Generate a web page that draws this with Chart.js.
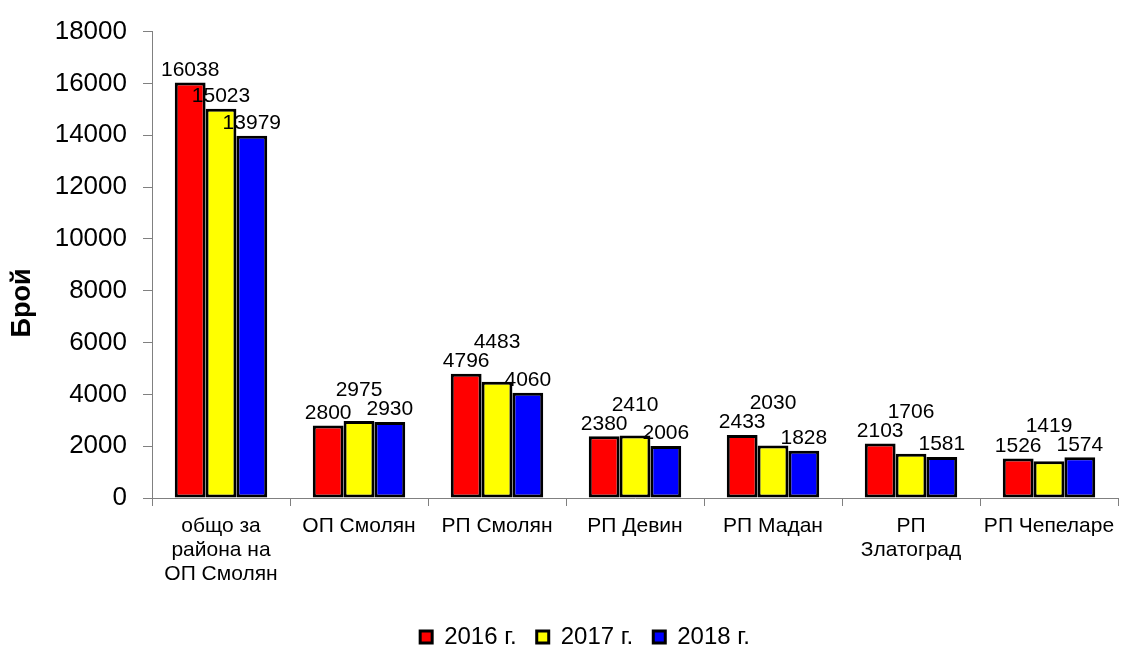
<!DOCTYPE html>
<html>
<head>
<meta charset="utf-8">
<script src="https://cdn.jsdelivr.net/npm/chart.js@4"></script>
<style>
  html, body { margin: 0; padding: 0; background: #ffffff; }
  #wrap { width: 1142px; height: 647px; }
</style>
</head>
<body>
<div id="wrap"><canvas id="c" width="1142" height="647"></canvas></div>
<script>
const categories = [
  ['общо за', 'района на', 'ОП Смолян'],
  'ОП Смолян',
  'РП Смолян',
  'РП Девин',
  'РП Мадан',
  ['РП', 'Златоград'],
  'РП Чепеларе'
];
const seriesNames = ['2016 г.', '2017 г.', '2018 г.'];
const values2016 = [16038, 2800, 4796, 2380, 2433, 2103, 1526];
const values2017 = [15023, 2975, 4483, 2410, 2030, 1706, 1419];
const values2018 = [13979, 2930, 4060, 2006, 1828, 1581, 1574];
const yTicks = [0, 2000, 4000, 6000, 8000, 10000, 12000, 14000, 16000, 18000];
const yTitle = 'Брой';

const FONT = '"Liberation Sans", Arial, sans-serif';

const valueLabels = {
  id: 'valueLabels',
  afterDatasetsDraw(chart) {
    const ctx = chart.ctx;
    ctx.save();
    ctx.font = '21px ' + FONT;
    ctx.fillStyle = '#000';
    ctx.textAlign = 'center';
    ctx.textBaseline = 'bottom';
    const n = chart.data.labels.length;
    const H = 19, gap = 2;
    const overlaps = (a, b) =>
      Math.abs(a.y - b.y) < H && Math.abs(a.x - b.x) < (a.w + b.w) / 2 + gap;
    for (let i = 0; i < n; i++) {
      const items = [];
      chart.data.datasets.forEach((ds, d) => {
        const el = chart.getDatasetMeta(d).data[i];
        const txt = String(ds.data[i]);
        items.push({ txt, x: el.x, y: el.y - 2, w: ctx.measureText(txt).width });
      });
      const [l, m, r] = items;
      let lift = m.y;
      if (overlaps(l, m)) lift = Math.min(lift, l.y - H);
      if (overlaps(r, m)) lift = Math.min(lift, r.y - H);
      m.y = lift;
      if (overlaps(l, m)) m.y = Math.min(m.y, l.y - H);
      if (overlaps(l, r)) {
        const need = (l.w + r.w) / 2 + gap - (r.x - l.x);
        l.x -= need / 2; r.x += need / 2;
      }
      items.forEach(it => ctx.fillText(it.txt, it.x, it.y));
    }
    ctx.restore();
  }
};

const yTitlePlugin = {
  id: 'yTitlePlugin',
  afterDraw(chart) {
    const ctx = chart.ctx;
    ctx.save();
    ctx.translate(23, 303);
    ctx.rotate(-Math.PI / 2);
    ctx.font = 'bold 27px ' + FONT;
    ctx.fillStyle = '#000';
    ctx.textAlign = 'center';
    ctx.textBaseline = 'middle';
    ctx.fillText(yTitle, 0, 0);
    ctx.restore();
  }
};

new Chart(document.getElementById('c'), {
  type: 'bar',
  data: {
    labels: categories,
    datasets: [
      { label: seriesNames[0], data: values2016, backgroundColor: '#FF0000' },
      { label: seriesNames[1], data: values2017, backgroundColor: '#FFFF00' },
      { label: seriesNames[2], data: values2018, backgroundColor: '#0000FF' }
    ].map(d => Object.assign(d, {
      borderColor: '#000000', borderWidth: 3, borderSkipped: false,
      categoryPercentage: 0.67, barPercentage: 1.0
    }))
  },
  options: {
    responsive: false,
    animation: false,
    events: [],
    layout: { padding: { left: 52, right: 24, top: 30, bottom: -12 } },
    plugins: {
      legend: {
        position: 'bottom',
        labels: {
          font: { family: FONT, size: 24 },
          color: '#000',
          boxWidth: 12,
          boxHeight: 12,
          padding: 20
        }
      },
      tooltip: { enabled: false },
      title: { display: false }
    },
    scales: {
      x: {
        afterFit(scale) { scale.height = 107; },
        grid: { display: true, drawOnChartArea: false, drawTicks: true, tickLength: 8, color: '#808080', offset: true },
        border: { display: true, color: '#808080', width: 1 },
        ticks: {
          autoSkip: false, maxRotation: 0, minRotation: 0,
          color: '#000', padding: 8,
          font: { family: FONT, size: 21, lineHeight: 1.15 }
        }
      },
      y: {
        min: 0, max: 18000,
        afterFit(scale) { scale.width = 100; },
        afterBuildTicks(scale) { scale.ticks = yTicks.map(v => ({ value: v })); },
        grid: { display: true, drawOnChartArea: false, drawTicks: true, tickLength: 9, color: '#808080' },
        border: { display: true, color: '#808080', width: 1 },
        ticks: {
          color: '#000', padding: 16,
          font: { family: FONT, size: 26 },
          callback: v => String(v)
        }
      }
    }
  },
  plugins: [valueLabels, yTitlePlugin]
});
</script>
</body>
</html>
